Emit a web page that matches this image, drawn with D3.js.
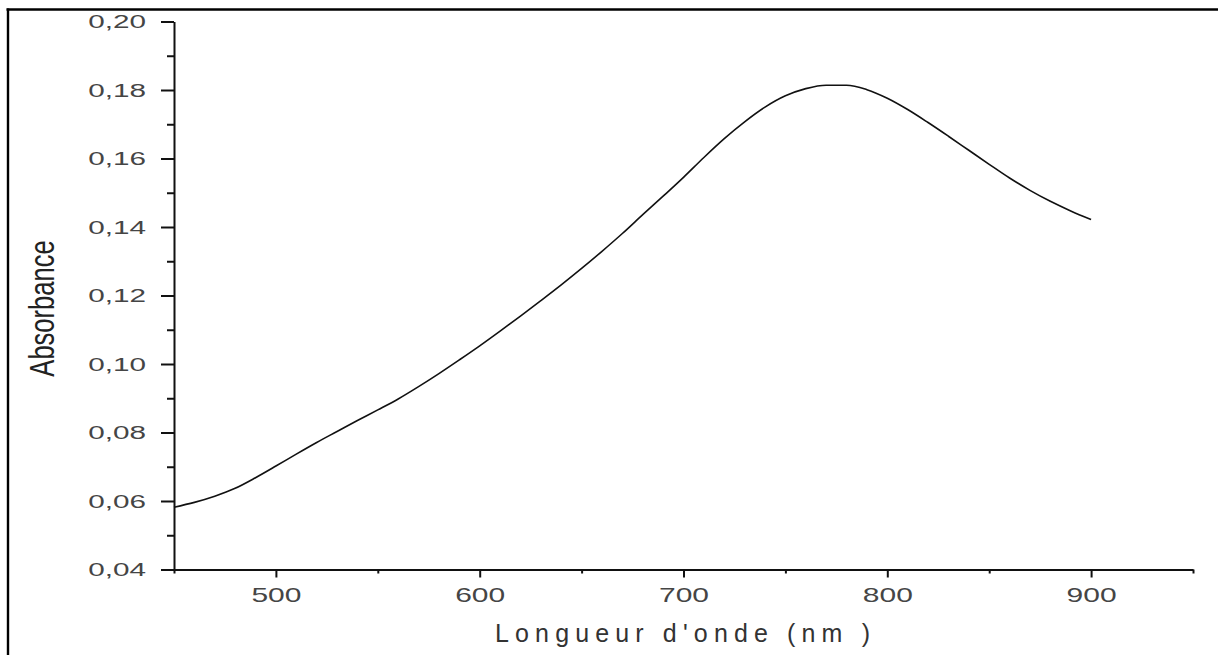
<!DOCTYPE html>
<html>
<head>
<meta charset="utf-8">
<script src="https://cdn.jsdelivr.net/npm/d3@7"></script>
<style>
  html, body { margin: 0; padding: 0; background: #fff; }
  svg { display: block; }
  text { font-family: "Liberation Sans", Arial, sans-serif; }
</style>
</head>
<body>
<svg id="chart" width="1218" height="655"></svg>
<script>
// ---- data ----
const wavelength = [450,460,470,480,490,500,510,520,530,540,550,560,570,580,590,600,610,620,630,640,650,660,670,680,690,700,710,720,730,740,750,760,770,780,790,800,810,820,830,840,850,860,870,880,890,900];
const absorbance = [0.0582,0.0596,0.0614,0.0637,0.0668,0.0702,0.0737,0.0771,0.0803,0.0835,0.0866,0.0898,0.0934,0.0972,0.1012,0.1053,0.1096,0.1140,0.1185,0.1231,0.1279,0.1329,0.1381,0.1436,0.1490,0.1545,0.1603,0.1658,0.1707,0.1750,0.1783,0.1804,0.1814,0.1814,0.1801,0.1776,0.1743,0.1705,0.1665,0.1624,0.1583,0.1543,0.1507,0.1475,0.1447,0.1422];
const xMajorTicks = [500,600,700,800,900];
const xMinorTicks = [450,550,650,750,850,950];
const yMajorTicks = [0.04,0.06,0.08,0.10,0.12,0.14,0.16,0.18,0.20];
const yMinorTicks = [0.05,0.07,0.09,0.11,0.13,0.15,0.17,0.19];
const xTitle = "Longueur d'onde (nm )";
const yTitle = "Absorbance";

const svg = d3.select("#chart");

// frame lines
svg.append("line").attr("x1", 6.5).attr("x2", 1218).attr("y1", 9.5).attr("y2", 9.5)
  .attr("stroke", "#000").attr("stroke-width", 2.6);
svg.append("line").attr("x1", 8).attr("x2", 8).attr("y1", 8.5).attr("y2", 655)
  .attr("stroke", "#000").attr("stroke-width", 2.4);

const x = d3.scaleLinear().domain([450, 950]).range([174, 1193]);
const y = d3.scaleLinear().domain([0.04, 0.20]).range([569.5, 21.5]);

// y axis
const gy = svg.append("g").attr("transform", `translate(${x(450)},0)`);
gy.call(d3.axisLeft(y).tickValues(yMajorTicks).tickSize(13).tickSizeOuter(0)
  .tickFormat(d => d.toFixed(2).replace(".", ",")));
gy.append("g").call(d3.axisLeft(y).tickValues(yMinorTicks).tickSize(7).tickSizeOuter(0).tickFormat(""))
  .select(".domain").remove();
gy.selectAll("path.domain").attr("stroke", "#111").attr("stroke-width", 2);
gy.selectAll(".tick line").attr("stroke", "#111").attr("stroke-width", 2);
gy.selectAll(".tick text")
  .attr("x", 0).attr("dy", "0.36em")
  .attr("transform", "translate(-28,0) scale(1.65,1)")
  .attr("text-anchor", "end")
  .attr("font-size", 18).attr("fill", "#454545");

// x axis
const gx = svg.append("g").attr("transform", `translate(0,${y(0.04)})`);
gx.call(d3.axisBottom(x).tickValues(xMajorTicks).tickSize(8).tickSizeOuter(0).tickFormat(d3.format("d")));
gx.append("g").call(d3.axisBottom(x).tickValues(xMinorTicks).tickSize(4).tickSizeOuter(0).tickFormat(""))
  .select(".domain").remove();
gx.selectAll("path.domain").attr("stroke", "#111").attr("stroke-width", 2);
gx.selectAll(".tick line").attr("stroke", "#111").attr("stroke-width", 2);
gx.selectAll(".tick text")
  .attr("y", 0).attr("dy", 0)
  .attr("transform", "translate(0,32) scale(1.5,1)")
  .attr("text-anchor", "middle")
  .attr("font-size", 20).attr("fill", "#454545");

// curve
const line = d3.line()
  .x((d, i) => x(wavelength[i]))
  .y(d => y(d))
  .curve(d3.curveMonotoneX);
svg.append("path").datum(absorbance)
  .attr("d", line)
  .attr("fill", "none").attr("stroke", "#111").attr("stroke-width", 1.6);

// titles
svg.append("text").text(xTitle)
  .attr("x", 495).attr("y", 642)
  .attr("textLength", 375).attr("lengthAdjust", "spacing")
  .attr("font-size", 25).attr("fill", "#333");

svg.append("text").text(yTitle)
  .attr("transform", "translate(54,308.5) rotate(-90) scale(0.73,1)")
  .attr("text-anchor", "middle")
  .attr("font-size", 35).attr("fill", "#222");
</script>
</body>
</html>
